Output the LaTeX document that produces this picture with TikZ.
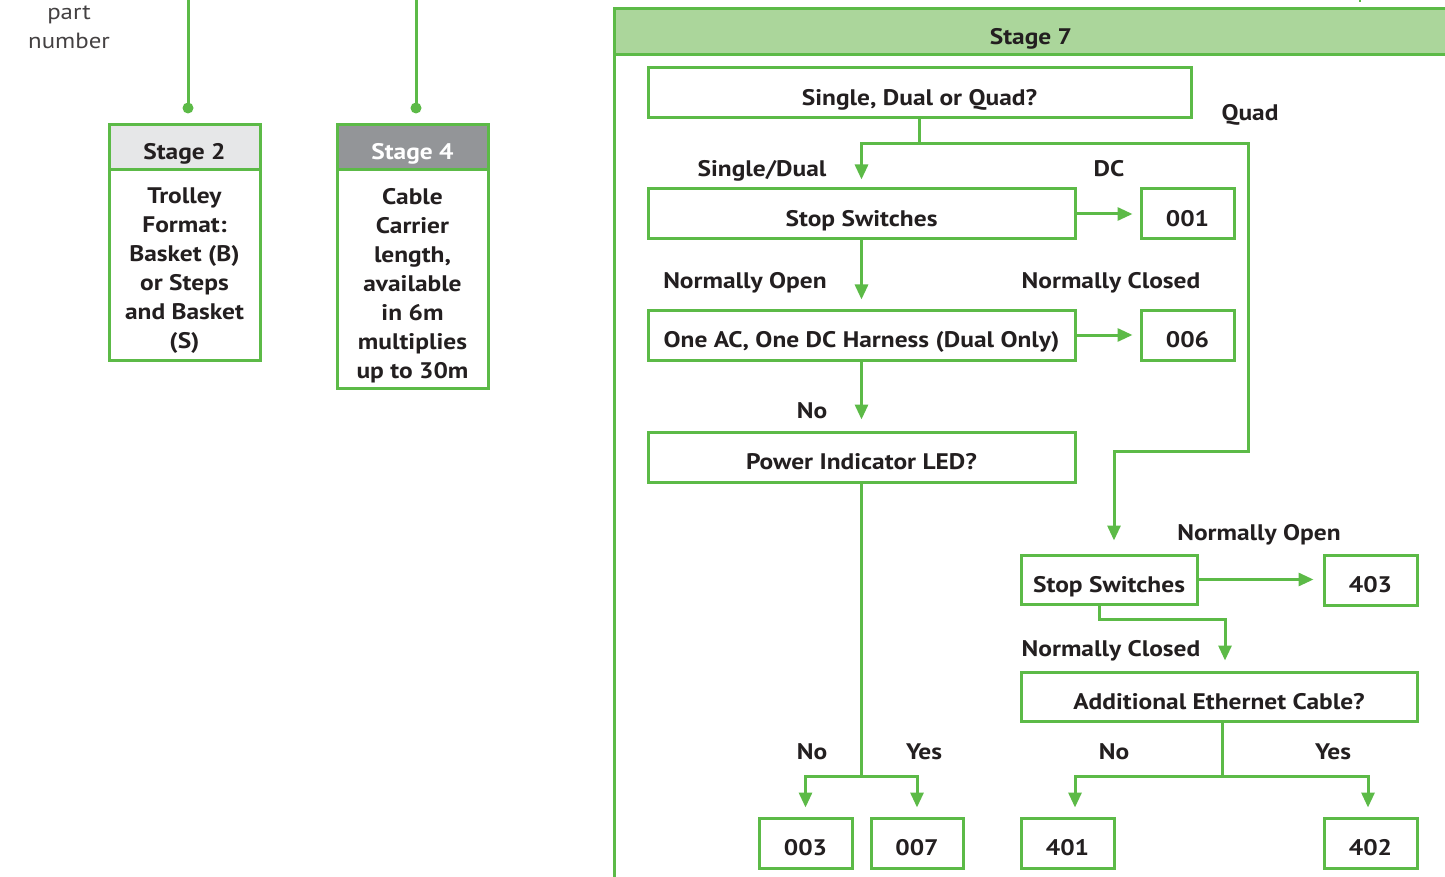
\documentclass[tikz,border=0pt]{standalone}
\usepackage{fontspec}
\setmainfont{PT Sans}
\newfontfamily\dinc[FakeStretch=1.13]{PT Sans}
\usetikzlibrary{arrows.meta}
\definecolor{gr}{HTML}{5CBA47}
\definecolor{hdr}{HTML}{ABD69B}
\definecolor{txt}{HTML}{231F20}
\definecolor{lgray}{HTML}{E6E7E8}
\definecolor{dgray}{HTML}{939598}
\begin{document}
\begin{tikzpicture}[x=1pt,y=-1pt,
  txtfont/.style={font=\dinc\bfseries\fontsize{22.5}{29}\selectfont},
  box/.style={draw=gr, line width=3pt, fill=white, inner sep=0pt, text=txt, txtfont,
    minimum height=50pt, text height=25pt, text depth=0pt},
  lbl/.style={text=txt, txtfont, inner sep=0pt, text height=16pt, text depth=0pt},
  lbox/.style={draw=gr, line width=3pt, inner sep=0pt, minimum width=151pt, text=txt, txtfont},
  btxt/.style={text=txt, txtfont, align=center, inner sep=0pt},
  con/.style={draw=gr, line width=3pt},
  arr/.style={con, -{Triangle[length=15pt,width=13pt]}}]
\useasboundingbox (0,0) rectangle (1445,877);
\clip (0,0) rectangle (1445,877);

% left part
\node[text=txt!85, font=\dinc\fontsize{22}{29}\selectfont, align=center, inner sep=0pt] (pn) at (69,27) {part\\number};

\coordinate (s2top) at (188,-5);
\coordinate (s2dot) at (188,108);
\coordinate (s4top) at (416,-5);
\coordinate (s4dot) at (416,108);
\draw[con] (s2top) -- (s2dot);
\draw[con] (s4top) -- (s4dot);
\fill[gr] (s2dot) circle (5.5);
\fill[gr] (s4dot) circle (5.5);

\node[lbox, fill=lgray, minimum height=45pt, text height=25pt, text depth=0pt] (s2h) at (184.5,147.5) {Stage 2};
\node[lbox, minimum height=190pt] (s2b) at (184.5,265) {};
\node[btxt] (s2t) at (184.5,271) {Trolley\\Format:\\Basket (B)\\or Steps\\and Basket\\(S)};
\node[lbox, fill=dgray, text=white, minimum height=45pt, text height=25pt, text depth=0pt] (s4h) at (412.5,147.5) {Stage 4};
\node[lbox, minimum height=218pt] (s4b) at (412.5,279) {};
\node[btxt] (s4t) at (412.5,286) {Cable\\Carrier\\length,\\available\\in 6m\\multiplies\\up to 30m};

% stage 7 frame
\node[draw=gr, line width=3pt, fill=hdr, minimum width=834pt, minimum height=46pt, outer sep=0pt,
  inner sep=0pt, text=txt, txtfont, text height=25pt, text depth=0pt] (s7) at (1031,32) {Stage 7};
\coordinate (s7bot) at (614,885);
\draw[con] (s7.south west) -- (s7bot);
\coordinate (tick) at (1360,-2);
\coordinate (tickb) at (1360,2);
\draw[gr, line width=1.5pt] (tick) -- (tickb);

% boxes
\node[box, minimum width=543pt] (q1) at (919.5,93) {Single, Dual or Quad?};
\node[box, minimum width=427pt] (ss1) at (861.5,214) {Stop Switches};
\node[box, minimum width=93pt] (b001) at (1187.5,214) {001};
\node[box, minimum width=427pt] (ac) at (861.5,335) {One AC, One DC Harness (Dual Only)};
\node[box, minimum width=93pt] (b006) at (1187.5,335) {006};
\node[box, minimum width=427pt] (led) at (861.5,457) {Power Indicator LED?};
\node[box, minimum width=93pt] (b003) at (805.5,843) {003};
\node[box, minimum width=92pt] (b007) at (917,843) {007};
\node[box, minimum width=176pt, minimum height=49pt] (ss2) at (1109,579.5) {Stop Switches};
\node[box, minimum width=93pt] (b403) at (1370.5,580) {403};
\node[box, minimum width=396pt, minimum height=49pt] (eth) at (1219,696.5) {Additional Ethernet Cable?};
\node[box, minimum width=93pt] (b401) at (1067.5,843) {401};
\node[box, minimum width=93pt] (b402) at (1370.5,843) {402};

% labels
\node[lbl] (lq) at (1250,113) {Quad};
\node[lbl] (lsd) at (762,169) {Single/Dual};
\node[lbl] (ldc) at (1109,169) {DC};
\node[lbl] (lno1) at (745,280) {Normally Open};
\node[lbl] (lnc1) at (1111,280) {Normally Closed};
\node[lbl] (lno) at (812,410) {No};
\node[lbl] (lno2) at (812,751) {No};
\node[lbl] (lyes2) at (924,751) {Yes};
\node[lbl] (lno3) at (1259,532) {Normally Open};
\node[lbl] (lnc3) at (1111,648) {Normally Closed};
\node[lbl] (lno4) at (1114,751) {No};
\node[lbl] (lyes4) at (1333,751) {Yes};

% connectors
\coordinate (j1) at (919.5,144);
\coordinate (jq) at (1248,144);
\coordinate (jq2) at (1248,451);
\coordinate (jq3) at (1114,451);
\draw[con] (q1.south) -- (j1);
\draw[arr, shorten >=8pt] (j1) -| (ss1.north);
\draw[arr, shorten >=13pt] (j1) -- (jq) -- (jq2) -- (jq3) -- (jq3 |- ss2.north);
\draw[arr, shorten >=7pt] (ss1.east) -- (b001.west);
\draw[arr, shorten >=9pt] (ss1.south) -- (ac.north);
\draw[arr, shorten >=7pt] (ac.east) -- (b006.west);
\draw[arr, shorten >=11pt] (ac.south) -- (led.north);
\coordinate (j2) at (861.5,776);
\draw[con] (led.south) -- (j2);
\draw[arr, shorten >=9pt] (j2) -| (b003.north);
\draw[arr, shorten >=9pt] (j2) -| (b007.north);
\draw[arr, shorten >=9pt] (ss2.east) -- (b403.west |- ss2.east);
\coordinate (j3) at (1099,619);
\coordinate (j3b) at (1225,619);
\draw[arr, shorten >=10pt] (j3 |- ss2.south) -- (j3) -- (j3b) -- (j3b |- eth.north);
\coordinate (j4) at (1222,776);
\coordinate (j4a) at (1075,776);
\coordinate (j4b) at (1368,776);
\draw[con] (j4 |- eth.south) -- (j4);
\draw[arr, shorten >=9pt] (j4) -- (j4a) -- (j4a |- b401.north);
\draw[arr, shorten >=9pt] (j4) -- (j4b) -- (j4b |- b402.north);
\end{tikzpicture}
\end{document}
